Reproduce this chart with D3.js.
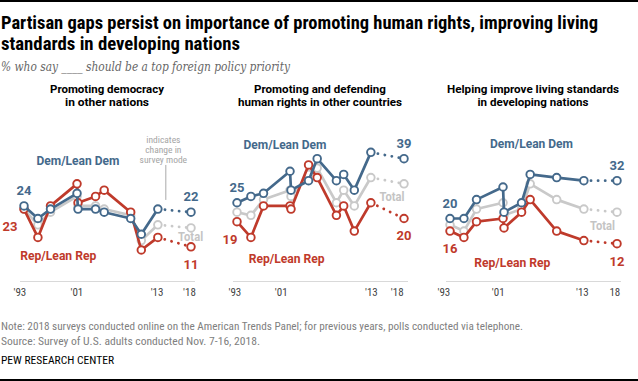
<!DOCTYPE html>
<html>
<head>
<meta charset="utf-8">
<script src="https://cdnjs.cloudflare.com/ajax/libs/d3/7.8.5/d3.min.js"></script>
<style>
body { margin: 0; background: #fff; }
svg { display: block; font-family: Roboto, "Liberation Sans", sans-serif; }
</style>
</head>
<body>
<svg id="chart" width="638" height="381"></svg>
<script>
// survey dates as decimal years (Sep '93 ... Nov '18)
var democracyDates = [1993.7, 1995.8, 1997.7, 2001.7, 2001.85, 2004.5, 2005.8, 2009.8, 2011.4, 2013.9, 2018.9];
var democracyDem   = [24, 20, 23, 28, 23, 23, 22, 20, 15, 23, 22];
var democracyRep   = [23, 14, 24, 31, 25, 27, 29, 22, 10, 14, 11];
var democracyTotal = [23, 18, 22, 27, 24, 24, 23, 21, 13, 18, 17];

var rightsDates = [1993.7, 1995.8, 1997.7, 2001.7, 2001.85, 2004.5, 2005.8, 2008.7, 2009.8, 2011.4, 2013.9, 2018.9];
var rightsDem   = [25, 27, 28, 35, 29, 32, 39, 32, 34, 29, 41, 39];
var rightsRep   = [19, 14, 24, 24, 23, 37, 33, 21, 24, 16, 25, 20];
var rightsTotal = [22, 21, 26, 29, 27, 34, 36, 25, 29, 24, 33, 31];

var livingDates = [1993.7, 1995.8, 1997.7, 2001.7, 2001.85, 2004.5, 2005.8, 2009.8, 2013.9, 2018.9];
var livingDem   = [20, 20, 26, 30, 22, 25, 34, 33, 32, 32];
var livingRep   = [16, 14, 19, 20, 17, 22, 26, 16, 13, 12];
var livingTotal = [18, 16, 23, 25, 21, 23, 31, 26, 23, 22];

// tick labels (positions are hand placed in the original, so per panel)
var democracyTicks = [1993.0, 2001.6, 2013.7, 2018.6];
var rightsTicks    = [1993.3, 2000.3, 2013.9, 2017.8];
var livingTicks    = [1992.7, 2000.9, 2013.6, 2018.5];
var tickLabels     = ["'93", "'01", "'13", "'18"];
var livingTickLabels = ["'93", "'01", "'13", "18"];

var blue = "#44698b", red = "#bf3a2b", gray = "#c9c9c9";
var condensed = '"Roboto Condensed","Liberation Sans Narrow","DejaVu Sans Condensed",Roboto,sans-serif';

var panels = [
    {title: ["Promoting democracy", "in other nations"], tw: [114, 84],
     dates: democracyDates, dem: democracyDem, rep: democracyRep, total: democracyTotal,
     ticks: democracyTicks, tickLabels: tickLabels,
     demLab: [2001.84, 38.3], repLab: [1998.87, 8.4], totLab: [2018.84, 14.2], repDx: -14,
     note: true},
    {title: ["Promoting and defending", "human rights in other countries"], tw: [132, 164],
     dates: rightsDates, dem: rightsDem, rep: rightsRep, total: rightsTotal,
     ticks: rightsTicks, tickLabels: tickLabels,
     demLab: [2000.94, 43.6], repLab: [2001.2, 7.4], totLab: [2017.1, 27.1], repDx: -7},
    {title: ["Helping improve living standards", "in developing nations"], tw: [172, 111],
     dates: livingDates, dem: livingDem, rep: livingRep, total: livingTotal,
     ticks: livingTicks, tickLabels: livingTickLabels,
     demLab: [2006.0, 43.9], repLab: [2003.1, 6.0], totLab: [2016.7, 17.9], repDx: 0}
];

function fit(t, w) {
    t.attr("textLength", w).attr("lengthAdjust", "spacingAndGlyphs");
    return t;
}

var svg = d3.select("#chart");

// top and bottom rules
svg.append("rect").attr("x", 0).attr("y", 0).attr("width", 638).attr("height", 2).attr("fill", "#000");
svg.append("rect").attr("x", 0).attr("y", 379).attr("width", 638).attr("height", 2).attr("fill", "#000");

// title
var title = ["Partisan gaps persist on importance of promoting human rights, improving living",
             "standards in developing nations"];
var titleW = [597, 239];
for (var i = 0; i < 2; i++) {
    fit(svg.append("text")
        .attr("x", 1)
        .attr("y", 29 + i * 21)
        .style("font-family", condensed)
        .style("font-weight", "bold")
        .style("font-size", "19px")
        .style("fill", "#000")
        .text(title[i]), titleW[i]);
}
fit(svg.append("text")
    .attr("x", 1)
    .attr("y", 71)
    .style("font-family", '"DejaVu Serif","Liberation Serif",serif')
    .style("font-style", "italic")
    .style("font-size", "12px")
    .style("fill", "#666")
    .text("% who say ____ should be a top foreign policy priority"), 289);

var y = d3.scaleLinear().domain([0, 50]).range([281.5, 124]);

panels.forEach(function(p, k) {
    var x0 = k * 213;
    var x = d3.scaleLinear().domain([1993.7, 2018.9]).range([x0 + 24, x0 + 191]);
    var g = svg.append("g");
    var cx = x0 + 107;

    // panel title
    for (var i = 0; i < 2; i++) {
        fit(g.append("text")
            .attr("x", cx)
            .attr("y", 92.5 + i * 13)
            .attr("text-anchor", "middle")
            .style("font-weight", "bold")
            .style("font-size", "11px")
            .style("fill", "#000")
            .text(p.title[i]), p.tw[i]);
    }

    // baseline
    g.append("line")
        .attr("x1", x(1993.7) - 4).attr("x2", x(2018.9) + 4)
        .attr("y1", y(0)).attr("y2", y(0))
        .attr("stroke", "#d9d9d9").attr("stroke-width", 1);

    var axis = d3.axisBottom(x)
        .tickValues(p.ticks)
        .tickFormat(function(d, i) { return p.tickLabels[i]; })
        .tickSize(0)
        .tickPadding(6.5);
    var ax = g.append("g").attr("transform", "translate(0," + y(0) + ")").call(axis);
    ax.select(".domain").remove();
    ax.selectAll("text")
        .style("font-family", condensed)
        .style("font-size", "11px")
        .style("fill", "#444");

    // survey mode note (first panel only)
    if (p.note) {
        var nx = x(2015.1);
        g.append("line")
            .attr("x1", nx).attr("x2", nx)
            .attr("y1", y(37)).attr("y2", y(25.9))
            .attr("stroke", "#aaa").attr("stroke-width", 1);
        var lines = ["indicates", "change in", "survey mode"];
        for (var j = 0; j < 3; j++) {
            g.append("text")
                .attr("x", nx - 2.5)
                .attr("y", y(37) - 22 + j * 10)
                .attr("text-anchor", "middle")
                .style("font-family", condensed)
                .style("font-size", "9.5px")
                .style("fill", "#a5a5a5")
                .text(lines[j]);
        }
    }

    var series = [
        {vals: p.total, color: gray},
        {vals: p.rep, color: red},
        {vals: p.dem, color: blue}
    ];
    var line = d3.line()
        .x(function(d) { return x(d.year); })
        .y(function(d) { return y(d.v); });

    series.forEach(function(s) {
        var pts = p.dates.map(function(d, i) { return {year: d, v: s.vals[i]}; });
        var n = pts.length;
        g.append("path")
            .attr("d", line(pts.slice(0, n - 1)))
            .attr("fill", "none")
            .attr("stroke", s.color)
            .attr("stroke-width", 2.7)
            .attr("stroke-linejoin", "round");
        g.append("path")
            .attr("d", line(pts.slice(n - 2)))
            .attr("fill", "none")
            .attr("stroke", s.color)
            .attr("stroke-width", 2.8)
            .attr("stroke-linecap", "round")
            .attr("stroke-dasharray", "0.1,7");
        g.selectAll(null)
            .data(pts)
            .enter().append("circle")
            .attr("cx", function(d) { return x(d.year); })
            .attr("cy", function(d) { return y(d.v); })
            .attr("r", 3.8)
            .attr("fill", "#fff")
            .attr("stroke", s.color)
            .attr("stroke-width", 1.9);
    });

    // value labels at the ends
    var last = p.dates.length - 1;
    var vlab = [
        [p.dates[0], p.dem[0], 0, -15.5, blue],
        [p.dates[last], p.dem[last], 0, -15.5, blue],
        [p.dates[0], p.rep[0], p.repDx, 17.3, red],
        [p.dates[last], p.rep[last], 0, 17.3, red]
    ];
    vlab.forEach(function(v) {
        g.append("text")
            .attr("x", x(v[0]) + v[2])
            .attr("y", y(v[1]) + v[3])
            .attr("dy", "0.36em")
            .attr("text-anchor", "middle")
            .style("font-weight", "bold")
            .style("font-size", "13px")
            .style("fill", v[4])
            .text(v[1]);
    });

    // series names
    var names = [
        ["Dem/Lean Dem", p.demLab, blue, 83],
        ["Rep/Lean Rep", p.repLab, red, 76],
        ["Total", p.totLab, "#c4c4c4", 25]
    ];
    names.forEach(function(nm) {
        fit(g.append("text")
            .attr("x", x(nm[1][0]))
            .attr("y", y(nm[1][1]))
            .attr("dy", "0.36em")
            .attr("text-anchor", "middle")
            .style("font-weight", "bold")
            .style("font-size", "12.5px")
            .style("fill", nm[2])
            .text(nm[0]), nm[3]);
    });
});

// notes
fit(svg.append("text")
    .attr("x", 1).attr("y", 329.5)
    .style("font-family", condensed)
    .style("font-size", "10.5px")
    .style("fill", "#808080")
    .text("Note: 2018 surveys conducted online on the American Trends Panel; for previous years, polls conducted via telephone."), 522);
fit(svg.append("text")
    .attr("x", 1).attr("y", 344.5)
    .style("font-family", condensed)
    .style("font-size", "10.5px")
    .style("fill", "#808080")
    .text("Source: Survey of U.S. adults conducted Nov. 7-16, 2018."), 259);
fit(svg.append("text")
    .attr("x", 1).attr("y", 364)
    .style("font-family", condensed)
    .style("font-size", "10.5px")
    .style("fill", "#000")
    .text("PEW RESEARCH CENTER"), 113);
</script>
</body>
</html>
